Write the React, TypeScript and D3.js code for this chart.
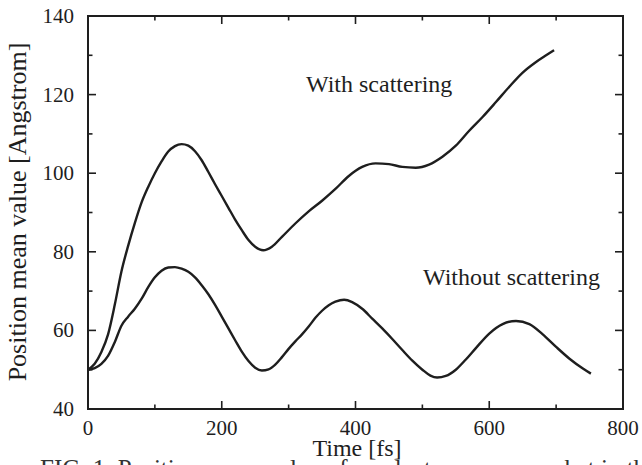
import React from "react";
import * as d3 from "d3";

const withT = [0, 10, 20, 30, 40, 50, 60, 70, 80, 90, 100, 110, 120, 130, 140, 150, 160, 170, 180, 190, 200, 210, 220, 230, 240, 250, 262, 275, 290, 310, 330, 350, 370, 390, 410, 430, 450, 470, 490, 510, 530, 550, 570, 590, 610, 630, 650, 670, 685, 697];
const withV = [50, 51.5, 54.5, 59, 66.5, 75, 81.5, 87.3, 92.5, 96.5, 100, 103, 105.5, 106.9, 107.4, 107, 105.6, 103.3, 100.3, 97.2, 94.2, 91.2, 88.2, 85.5, 83, 81.3, 80.4, 81.3, 83.8, 87.2, 90.3, 93, 96, 99.3, 101.6, 102.5, 102.3, 101.6, 101.4, 102.2, 104.2, 107, 110.8, 114.3, 118.1, 122, 125.6, 128.3, 130, 131.3];

const woT = [0, 10, 20, 30, 40, 50, 60, 70, 80, 90, 100, 110, 120, 130, 140, 150, 160, 170, 180, 190, 200, 210, 220, 230, 240, 250, 260, 270, 280, 290, 300, 310, 320, 330, 340, 350, 360, 370, 383, 395, 410, 425, 440, 455, 470, 485, 500, 512, 522, 535, 550, 565, 580, 600, 620, 640, 660, 680, 700, 720, 740, 752];
const woV = [50, 50.4, 51.5, 53.5, 57, 61.2, 63.5, 65.5, 68, 71, 73.5, 75.2, 76, 76.1, 75.7, 74.9, 73.5, 71.5, 69.2, 66.5, 63.5, 60.5, 57.5, 54.6, 52.2, 50.5, 49.8, 50.1, 51.3, 53.2, 55.3, 57.2, 59, 61, 63.2, 65, 66.4, 67.3, 67.8, 67.2, 65.5, 63, 60.5, 57.8, 55, 52.3, 50, 48.5, 48, 48.4, 50, 52.6, 55.5, 59.2, 61.6, 62.4, 61.6, 59, 55.8, 52.8, 50.3, 49];

const xMajor = [0, 200, 400, 600, 800];
const xMinor = [100, 300, 500, 700];
const yMajor = [40, 60, 80, 100, 120, 140];
const yMinor = [50, 70, 90, 110, 130];

const labelWith = "With scattering";
const labelWithout = "Without scattering";
const xTitle = "Time [fs]";
const yTitle = "Position mean value [Angstrom]";
const caption = "FIG. 1. Position mean value of an electron wave packet in the superlattice and";

export default function App() {
  const W = 642, H = 465;
  const L = 88, R = 623, T = 16, B = 409;
  const x = d3.scaleLinear().domain([0, 800]).range([L, R]);
  const y = d3.scaleLinear().domain([40, 140]).range([B, T]);
  const line = d3
    .line<[number, number]>()
    .x((d) => x(d[0]))
    .y((d) => y(d[1]))
    .curve(d3.curveMonotoneX);
  const withPts = withT.map((t, i) => [t, withV[i]] as [number, number]);
  const woPts = woT.map((t, i) => [t, woV[i]] as [number, number]);
  const ink = "#1e1e1e";
  const font = "'Liberation Serif', 'Times New Roman', Times, 'DejaVu Serif', serif";
  const tf = { fontFamily: font };
  const major = 8, minor = 4.5;

  return (
    <svg
      width={W}
      height={H}
      style={{ position: "absolute", left: 0, top: 0, background: "#fff", overflow: "hidden", fontFamily: font }}
      fill={ink}
    >
      <rect x={0} y={0} width={W} height={H} fill="#fff" />
      <g stroke={ink} strokeWidth={1.6}>
        {xMajor.map((v) => (
          <g key={"xm" + v}>
            <line x1={x(v)} x2={x(v)} y1={B} y2={B - major} />
            <line x1={x(v)} x2={x(v)} y1={T} y2={T + major} />
          </g>
        ))}
        {xMinor.map((v) => (
          <g key={"xn" + v}>
            <line x1={x(v)} x2={x(v)} y1={B} y2={B - minor} />
            <line x1={x(v)} x2={x(v)} y1={T} y2={T + minor} />
          </g>
        ))}
        {yMajor.map((v) => (
          <g key={"ym" + v}>
            <line x1={L} x2={L + major} y1={y(v)} y2={y(v)} />
            <line x1={R} x2={R - major} y1={y(v)} y2={y(v)} />
          </g>
        ))}
        {yMinor.map((v) => (
          <g key={"yn" + v}>
            <line x1={L} x2={L + minor} y1={y(v)} y2={y(v)} />
            <line x1={R} x2={R - minor} y1={y(v)} y2={y(v)} />
          </g>
        ))}
      </g>
      <rect x={L} y={T} width={R - L} height={B - T} fill="none" stroke={ink} strokeWidth={2} />
      <path d={line(withPts) || ""} fill="none" stroke={ink} strokeWidth={2.4} strokeLinejoin="round" />
      <path d={line(woPts) || ""} fill="none" stroke={ink} strokeWidth={2.4} strokeLinejoin="round" />
      {xMajor.map((v) => (
        <text key={"xl" + v} x={x(v)} y={435} fontSize={21} textAnchor="middle" style={tf}>
          {v}
        </text>
      ))}
      {yMajor.map((v) => (
        <text key={"yl" + v} x={74} y={y(v) + 7} fontSize={21} textAnchor="end" style={tf}>
          {v}
        </text>
      ))}
      <text x={306} y={92} fontSize={24} style={tf}>{labelWith}</text>
      <text x={423} y={285} fontSize={24} style={tf}>{labelWithout}</text>
      <text x={357} y={456} fontSize={24} textAnchor="middle" style={tf}>{xTitle}</text>
      <text transform={`translate(26, 212) rotate(-90)`} fontSize={26} textAnchor="middle" style={tf}>
        {yTitle}
      </text>
      <text x={40} y={477} fontSize={25} fill="#333" style={tf}>{caption}</text>
    </svg>
  );
}
